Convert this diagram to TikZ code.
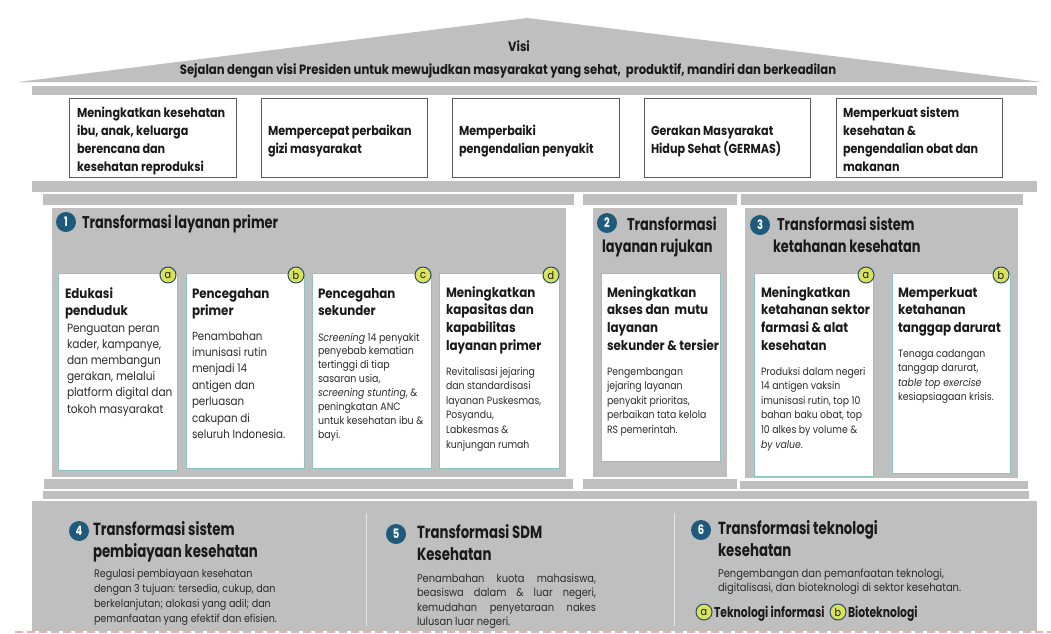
\documentclass[tikz,border=0pt]{standalone}
\usepackage{fontspec}
\setmainfont{Poppins}
\newfontfamily\roofF[FakeStretch=0.86]{Poppins}
\newfontfamily\ttlF[FakeStretch=0.76]{Poppins}
\newfontfamily\cardF[FakeStretch=0.88]{Poppins}
\definecolor{pillar}{HTML}{BFBFBF}
\definecolor{ink}{HTML}{1A1A1A}
\definecolor{body}{HTML}{2B2B2B}
\definecolor{cardline}{HTML}{8CC4C4}
\definecolor{boxline}{HTML}{5A5A5A}
\definecolor{numblue}{HTML}{1F5A7C}
\definecolor{badge}{HTML}{D9E25C}
\definecolor{badgeline}{HTML}{2D4A5C}
\definecolor{pinkdash}{HTML}{EFB0B0}
\definecolor{divider}{HTML}{E6E6E6}
\newcommand\blk[3]{\parbox[t]{#1}{#2\raggedright #3}}
\newcommand\jblk[3]{\parbox[t]{#1}{#2#3}}
\tikzset{
  slab/.style={fill=pillar, draw=none},
  topbox/.style={draw=boxline, line width=0.8pt, fill=white, anchor=north west, inner sep=0pt},
  card/.style={draw=cardline, line width=1.1pt, fill=white, anchor=north west, inner sep=0pt},
  txt/.style={anchor=base west, inner sep=0pt, outer sep=0pt, text=ink},
  numc/.style={circle, fill=numblue, text=white, inner sep=0pt, minimum size=20pt,
    font=\ttlF\bfseries\fontsize{13}{13}\selectfont},
  letc/.style={circle, fill=badge, draw=badgeline, line width=1pt, text=ink, inner sep=0pt,
    minimum size=16pt, font=\cardF\fontsize{11}{11}\selectfont},
}
\begin{document}
\begin{tikzpicture}[x=1pt,y=-1pt]
\useasboundingbox (0,0) rectangle (1051,633);
\fill[white] (0,0) rectangle (1051,633);

% roof and lintels
\fill[pillar] (18,82) -- (527,18) -- (1042,82) -- cycle;
\fill[pillar] (32,86) rectangle (1037,95);
\fill[pillar] (32,181) rectangle (1037,192);
\fill[pillar] (43,194) rectangle (574,205);
\fill[pillar] (583,194) rectangle (737,205);
\fill[pillar] (741,194) rectangle (1023,205);

\node[anchor=base, inner sep=0pt, text=ink] (visi) at (519,51)
  {\roofF\bfseries\fontsize{13.5}{15}\selectfont Visi};
\node[anchor=base, inner sep=0pt, text=ink] (visitext) at (508,74)
  {\roofF\bfseries\fontsize{13.5}{15}\selectfont Sejalan dengan visi Presiden untuk mewujudkan masyarakat yang sehat,\ \ produktif, mandiri dan berkeadilan};

% five goals
\node[topbox, minimum width=167pt, minimum height=79pt] (g1) at (69,98) {};
\node[topbox, minimum width=166pt, minimum height=79pt] (g2) at (261,98) {};
\node[topbox, minimum width=167pt, minimum height=79pt] (g3) at (452,98) {};
\node[topbox, minimum width=166pt, minimum height=79pt] (g4) at (644,98) {};
\node[topbox, minimum width=166pt, minimum height=79pt] (g5) at (836,98) {};
\def\gf{\roofF\bfseries\fontsize{13}{18}\selectfont}
\node[txt] (g1t) at (77,117) {\blk{160pt}{\gf}{Meningkatkan kesehatan\\ibu, anak, keluarga\\berencana dan\\kesehatan reproduksi}};
\node[txt] (g2t) at (268,135) {\blk{160pt}{\gf}{Mempercepat perbaikan\\gizi masyarakat}};
\node[txt] (g3t) at (459,135) {\blk{160pt}{\gf}{Memperbaiki\\pengendalian penyakit}};
\node[txt] (g4t) at (651,135) {\blk{160pt}{\gf}{Gerakan Masyarakat\\Hidup Sehat (GERMAS)}};
\node[txt] (g5t) at (843,117) {\blk{160pt}{\gf}{Memperkuat sistem\\kesehatan \&\\pengendalian obat dan\\makanan}};

% pillars
\fill[pillar] (52,208) rectangle (566,477);
\fill[pillar] (593,208) rectangle (727,477);
\fill[pillar] (745,208) rectangle (1018,478);
\fill[pillar] (44,479) rectangle (573,489);
\fill[pillar] (583,479) rectangle (737,489);
\fill[pillar] (740,481) rectangle (1028,489);
\fill[pillar] (43,491) rectangle (1029,499);
\fill[pillar] (32,501) rectangle (1037,631);

\def\tf{\ttlF\bfseries\fontsize{17}{22}\selectfont}
\node[numc] (n1) at (66,222) {1};
\node[txt] (p1t) at (82,228) {\tf Transformasi layanan primer};
\node[numc] (n2) at (607,223) {2};
\node[txt] (p2t) at (627,230) {\tf Transformasi};
\node[txt] (p2u) at (602,252) {\tf layanan rujukan};
\node[numc] (n3) at (760,225) {3};
\node[txt] (p3t) at (777,230) {\tf Transformasi sistem};
\node[txt] (p3u) at (773,252) {\tf ketahanan kesehatan};

% cards
\node[card, minimum width=119pt, minimum height=197pt] (ca) at (58,273) {};
\node[card, minimum width=118pt, minimum height=195pt] (cb) at (186,273) {};
\node[card, minimum width=119pt, minimum height=195pt] (cc) at (312,273) {};
\node[card, minimum width=120pt, minimum height=195pt] (cd) at (439,273) {};
\node[card, minimum width=119pt, minimum height=188pt] (ce) at (601,273) {};
\node[card, minimum width=119pt, minimum height=203pt] (cf) at (754,273) {};
\node[card, minimum width=118pt, minimum height=200pt] (cg) at (892,273) {};

\node[letc] (ba) at (168,275) {a};
\node[letc] (bb) at (296,275) {b};
\node[letc] (bc) at (423,275) {c};
\node[letc] (bd) at (551,275) {d};
\node[letc] (bf) at (866,275) {a};
\node[letc] (bg) at (1001,275) {b};

\def\hf{\cardF\bfseries\fontsize{13.5}{17.8}\selectfont}
\def\sb{\cardF\fontsize{10.6}{14.6}\selectfont}
\node[txt] (cah) at (65,298) {\blk{115pt}{\hf}{Edukasi\\penduduk}};
\node[txt, text=body] (cab) at (67,332) {\blk{115pt}{\cardF\fontsize{12}{16.2}\selectfont}{Penguatan peran\\kader, kampanye,\\dan membangun\\gerakan, melalui\\platform digital dan\\tokoh masyarakat}};
\node[txt] (cbh) at (192,298) {\blk{115pt}{\hf}{Pencegahan\\primer}};
\node[txt, text=body] (cbb) at (192,340) {\blk{115pt}{\cardF\fontsize{11.7}{16.4}\selectfont}{Penambahan\\imunisasi rutin\\menjadi 14\\antigen dan\\perluasan\\cakupan di\\seluruh Indonesia.}};
\node[txt] (cch) at (318,298) {\blk{115pt}{\hf}{Pencegahan\\sekunder}};
\node[txt, text=body] (ccb) at (318,341) {\blk{115pt}{\cardF\fontsize{10.7}{13.9}\selectfont}{\textit{Screening} 14 penyakit\\penyebab kematian\\tertinggi di tiap\\sasaran usia,\\\textit{screening stunting}, \&\\peningkatan ANC\\untuk kesehatan ibu \&\\bayi.}};
\node[txt] (cdh) at (446,297) {\blk{115pt}{\hf}{Meningkatkan\\kapasitas dan\\kapabilitas\\layanan primer}};
\node[txt, text=body] (cdb) at (446,375) {\blk{115pt}{\sb}{Revitalisasi jejaring\\dan standardisasi\\layanan Puskesmas,\\Posyandu,\\Labkesmas \&\\kunjungan rumah}};
\node[txt] (ceh) at (607,297) {\blk{115pt}{\hf}{Meningkatkan\\akses dan\ \ mutu\\layanan\\sekunder \& tersier}};
\node[txt, text=body] (ceb) at (607,375) {\blk{115pt}{\sb}{Pengembangan\\jejaring layanan\\penyakit prioritas,\\perbaikan tata kelola\\RS pemerintah.}};
\node[txt] (cfh) at (761,297) {\blk{115pt}{\hf}{Meningkatkan\\ketahanan sektor\\farmasi \& alat\\kesehatan}};
\node[txt, text=body] (cfb) at (761,375) {\blk{115pt}{\sb}{Produksi dalam negeri\\14 antigen vaksin\\imunisasi rutin, top 10\\bahan baku obat, top\\10 alkes by volume \&\\\textit{by value}.}};
\node[txt] (cgh) at (898,297) {\blk{115pt}{\hf}{Memperkuat\\ketahanan\\tanggap darurat}};
\node[txt, text=body] (cgb) at (898,357) {\blk{115pt}{\sb}{Tenaga cadangan\\tanggap darurat,\\\textit{table top exercise}\\kesiapsiagaan krisis.}};

% foundation
\draw[divider, line width=1pt] (366,513) -- (366,626);
\draw[divider, line width=1pt] (674,513) -- (674,626);
\def\bf{\ttlF\bfseries\fontsize{17.5}{22}\selectfont}
\node[numc] (n4) at (79,531) {4};
\node[txt] (f4t) at (93,535) {\blk{200pt}{\bf}{Transformasi sistem\\pembiayaan kesehatan}};
\node[txt, text=body] (f4b) at (94,577) {\blk{220pt}{\cardF\fontsize{10.9}{15}\selectfont}{Regulasi pembiayaan kesehatan\\dengan 3 tujuan: tersedia, cukup, dan\\berkelanjutan; alokasi yang adil; dan\\pemanfaatan yang efektif dan efisien.}};
\node[numc] (n5) at (396,534) {5};
\node[txt] (f5t) at (417,538) {\blk{200pt}{\bf}{Transformasi SDM\\Kesehatan}};
\node[txt, text=body] (f5b) at (417,582) {\jblk{179pt}{\cardF\fontsize{11.2}{14.5}\selectfont}{Penambahan kuota mahasiswa,\linebreak beasiswa dalam \& luar negeri,\linebreak kemudahan penyetaraan nakes\linebreak lulusan luar negeri.}};
\node[numc] (n6) at (701,530) {6};
\node[txt] (f6t) at (718,534) {\blk{250pt}{\bf}{Transformasi teknologi\\kesehatan}};
\node[txt, text=body] (f6b) at (718,577) {\blk{300pt}{\cardF\fontsize{11.3}{14.5}\selectfont}{Pengembangan dan pemanfaatan teknologi,\\digitalisasi, dan bioteknologi di sektor kesehatan.}};
\node[letc] (t6a) at (704,612) {a};
\node[txt] (t6at) at (714,617) {\ttlF\bfseries\fontsize{14.2}{15}\selectfont Teknologi informasi};
\node[letc] (t6b) at (838,612) {b};
\node[txt] (t6bt) at (848,617) {\ttlF\bfseries\fontsize{14.2}{15}\selectfont Bioteknologi};

\draw[pinkdash, line width=1.2pt, dash pattern=on 8pt off 4pt] (15,632) -- (1051,632);
\end{tikzpicture}
\end{document}
